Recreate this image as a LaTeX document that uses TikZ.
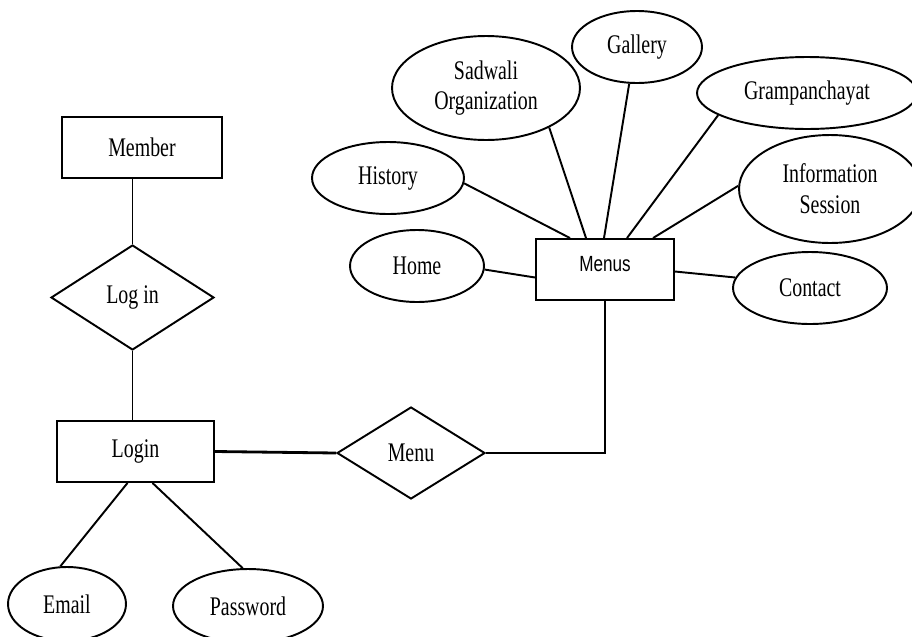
\documentclass[tikz,border=0pt]{standalone}
\usepackage{fontspec}
\setmainfont{Liberation Serif}[FakeStretch=0.74]
\newfontfamily\menusfont{Liberation Sans}[FakeStretch=0.78]
\usepackage{tikz}
\usetikzlibrary{calc}
\usetikzlibrary{shapes}
\usetikzlibrary{shapes.geometric}
\tikzstyle{ent} = [rectangle, draw, line width = 1.1pt, inner sep = 0, font = \fontsize{15.3}{17.5}\selectfont]
\tikzstyle{attr} = [ellipse, draw, line width = 1.1pt, inner sep = 0, align = center, minimum height = 1.44cm, font = \fontsize{15.3}{17.5}\selectfont]
\tikzstyle{rel} = [diamond, draw, line width = 1.1pt, inner sep = 0, font = \fontsize{15.3}{17.5}\selectfont]
\tikzstyle{lnk} = [-, line width = 1.1pt]
\tikzstyle{thk} = [-, line width = 1.6pt]

\begin{document}
\begin{tikzpicture}[x = .02cm, y = -.02cm]
\useasboundingbox (0, 0) rectangle (912, 636);
% login side
\node [ent, minimum width = 3.2cm, minimum height = 1.22cm] (member) at (142, 147.5) {Member};
\node [rel, minimum width = 3.26cm, minimum height = 2.1cm] (logrel) at (132.5, 297.5) {Log in};
\node [ent, minimum width = 3.14cm, minimum height = 1.22cm] (login) at (135.5, 451.5) {Login};
\node [attr, minimum width = 2.36cm, minimum height = 1.48cm] (email) at (67, 604) {Email};
\node [attr, minimum width = 3cm, minimum height = 1.48cm] (password) at (248, 606) {Password};
\node [rel, minimum width = 2.96cm, minimum height = 1.84cm] (menu) at (411, 453) {Menu};
% menus side
\node [ent, font = \menusfont\fontsize{12.5}{14}\selectfont, text depth = .24cm, minimum width = 2.76cm, minimum height = 1.22cm] (menus) at (605, 269.5) {Menus};
\node [attr, minimum width = 2.6cm] (gallery) at (637, 47) {Gallery};
\node [attr, minimum width = 3.76cm, minimum height = 2.08cm] (sadwali) at (486, 88) {Sadwali\\Organization};
\node [attr, minimum width = 4.4cm] (gramp) at (807, 93) {Grampanchayat};
\node [attr, minimum width = 3.04cm] (history) at (388, 178) {History};
\node [attr, minimum width = 3.64cm, minimum height = 2.16cm] (info) at (830, 189) {Information\\Session};
\node [attr, minimum width = 2.68cm] (home) at (417, 266) {Home};
\node [attr, minimum width = 3.08cm] (contact) at (810, 288) {Contact};

\draw [lnk] (logrel.north) -- (logrel.north |- member.south);
\draw [lnk] (logrel.south) -- (logrel.south |- login.north);
\draw [lnk] ($(login.south)+(-8,0)$) -- (email.100);
\draw [lnk] ($(login.south)+(17,0)$) -- (password.98);
\draw [thk] (login.east) -- (menu.west);
\draw [thk] (menu.east) -| (menus.south);
\draw [lnk] (home.-3) -- ($(menus.west)+(0,8)$);
\draw [lnk] (history.-4) -- ($(menus.north)+(-35,0)$);
\draw [lnk] (sadwali.-32) -- ($(menus.north)+(-19,0)$);
\draw [lnk] (gallery.-102) -- ($(menus.north)+(-1,0)$);
\draw [lnk] (gramp.-166) -- ($(menus.north)+(22,0)$);
\draw [lnk] (info.178) -- ($(menus.north)+(48,0)$);
\draw [lnk] (contact.172) -- ($(menus.east)+(0,2)$);
\end{tikzpicture}
\end{document}
